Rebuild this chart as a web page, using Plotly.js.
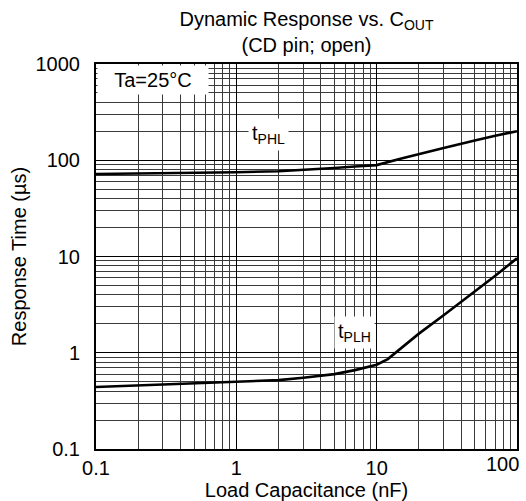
<!DOCTYPE html>
<html>
<head>
<meta charset="utf-8">
<script src="https://cdn.plot.ly/plotly-3.0.1.min.js"></script>
<style>html,body{margin:0;padding:0;background:#fff;}#chart{width:526px;height:501px;}</style>
</head>
<body>
<div id="chart"></div>
<script>
// Load capacitance (nF) and response times (µs)
var capPHL = [0.1, 0.3, 1, 2, 3, 5, 7, 10, 15, 20, 30, 50, 70, 100];
var tPHL   = [72, 73, 75, 77, 79, 83, 86, 89, 104, 116, 134, 160, 180, 200];
var capPLH = [0.1, 0.3, 1, 2, 3, 5, 7, 10, 12, 15, 20, 30, 50, 70, 100];
var tPLH   = [0.44, 0.47, 0.5, 0.52, 0.55, 0.6, 0.66, 0.75, 0.86, 1.12, 1.58, 2.45, 4.3, 6.3, 9.6];
var xTicks = [0.1, 1, 10];
var xTickText = ['0.1', '1', '10'];
var yTicks = [0.1, 1, 10, 100, 1000];
var yTickText = ['0.1', '1', '10', '100', '1000'];

var FONT = 'Liberation Sans, Arial, sans-serif';
var lineStyle = {color: '#000', width: 2.6, shape: 'linear'};

var data = [
  {x: capPHL, y: tPHL, mode: 'lines', line: lineStyle, hoverinfo: 'skip', showlegend: false},
  {x: capPLH, y: tPLH, mode: 'lines', line: lineStyle, hoverinfo: 'skip', showlegend: false}
];

var axisCommon = {
  type: 'log',
  showline: true, mirror: true, linecolor: '#000', linewidth: 2,
  showgrid: true, gridcolor: '#000', gridwidth: 1,
  zeroline: false, ticks: '',
  tickfont: {family: FONT, size: 20, color: '#000'},
  minor: {dtick: 'D1', showgrid: true, gridcolor: '#3a3a3a', gridwidth: 1, ticks: ''}
};

var layout = {
  width: 526, height: 501,
  margin: {l: 96, r: 9, t: 64, b: 52},
  paper_bgcolor: '#fff', plot_bgcolor: '#fff',
  font: {family: FONT, size: 20, color: '#000'},
  title: {
    text: 'Dynamic Response vs. C<sub>OUT</sub><br>(CD pin; open)',
    x: 0.5, xref: 'paper', xanchor: 'center',
    y: 0.948, yref: 'container', yanchor: 'middle',
    font: {family: FONT, size: 20, color: '#000'}
  },
  xaxis: Object.assign({}, axisCommon, {
    range: [-1, 2],
    tickmode: 'array', tickvals: xTicks, ticktext: xTickText,
    title: {text: 'Load Capacitance (nF)', font: {family: FONT, size: 20, color: '#000'}, standoff: 0}
  }),
  yaxis: Object.assign({}, axisCommon, {
    range: [-1, 3],
    tickmode: 'array', tickvals: yTicks, ticktext: yTickText,
    ticklabelstandoff: 10,
    title: {text: 'Response Time (µs)', font: {family: FONT, size: 20, color: '#000'}, standoff: 4}
  }),
  annotations: [
    {x: 0, y: 1, xref: 'paper', yref: 'paper', xanchor: 'left', yanchor: 'top',
     text: 'Ta=25°C', showarrow: false, bgcolor: '#fff', borderpad: 2, xshift: 1, yshift: -1,
     width: 106, height: 24, font: {family: FONT, size: 20, color: '#000'}},
    {x: Math.log10(1.69), y: Math.log10(183), xref: 'x', yref: 'y',
     text: 't<sub>PHL</sub>', showarrow: false, bgcolor: '#fff', borderpad: 3,
     font: {family: FONT, size: 20, color: '#000'}},
    {x: Math.log10(6.96), y: Math.log10(1.64), xref: 'x', yref: 'y',
     text: 't<sub>PLH</sub>', showarrow: false, bgcolor: '#fff', borderpad: 3,
     font: {family: FONT, size: 20, color: '#000'}},
    {x: 2, y: 0, xref: 'x', yref: 'paper', xanchor: 'right', yanchor: 'top',
     text: '100', showarrow: false, xshift: 4, yshift: -2,
     font: {family: FONT, size: 20, color: '#000'}}
  ]
};

Plotly.newPlot('chart', data, layout, {staticPlot: true, displayModeBar: false});
</script>
</body>
</html>
